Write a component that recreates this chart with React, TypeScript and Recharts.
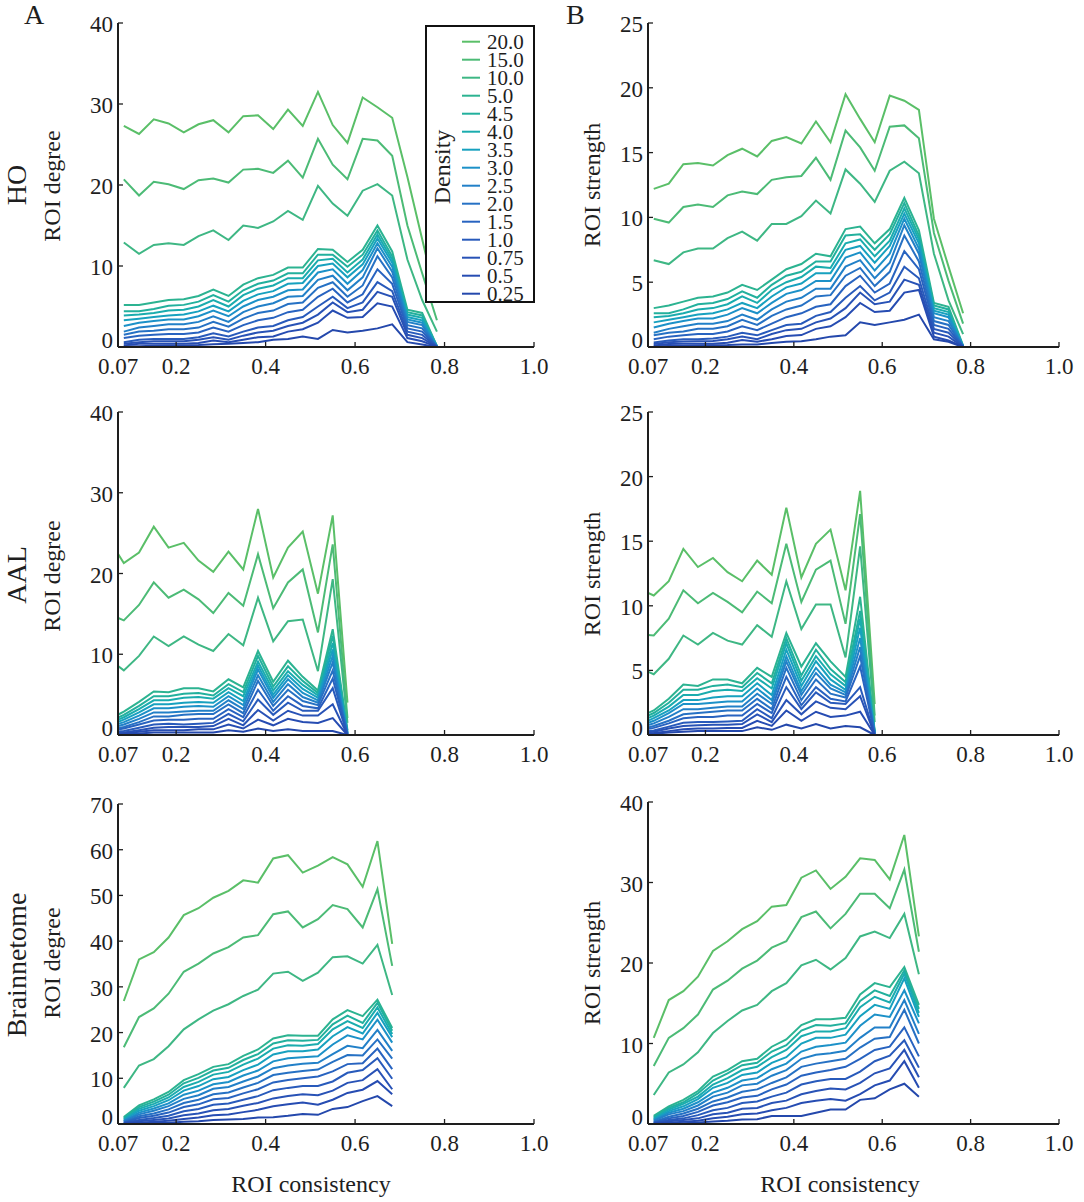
import React from "react";
import { Legend, Line, LineChart, XAxis, YAxis } from "recharts";

const SERIF = "'Liberation Serif', 'Times New Roman', serif";
const INK = "#1e1e1e";

// network density (%) of each curve, highest first
const DENSITIES = ["20.0", "15.0", "10.0", "5.0", "4.5", "4.0", "3.5", "3.0", "2.5", "2.0", "1.5", "1.0", "0.75", "0.5", "0.25"];
const COLORS = ["#5abf68", "#4cbb76", "#3eb784", "#2cb391", "#22b09d", "#1aacae", "#17a1bf", "#1c91c8", "#2280c8", "#2671c4", "#2863c0", "#285abb", "#2852b6", "#264cb2", "#2448ac"];

// ROI consistency bin centres per atlas
const X_HO = [0.083, 0.117, 0.15, 0.183, 0.217, 0.25, 0.283, 0.317, 0.35, 0.383, 0.417, 0.45, 0.483, 0.517, 0.55, 0.583, 0.617, 0.65, 0.683, 0.717, 0.75, 0.783];
const X_AAL = [0.05, 0.083, 0.117, 0.15, 0.183, 0.217, 0.25, 0.283, 0.317, 0.35, 0.383, 0.417, 0.45, 0.483, 0.517, 0.55, 0.583];
const X_BN = [0.083, 0.117, 0.15, 0.183, 0.217, 0.25, 0.283, 0.317, 0.35, 0.383, 0.417, 0.45, 0.483, 0.517, 0.55, 0.583, 0.617, 0.65, 0.683];

const X_TICKS = [0.07, 0.2, 0.4, 0.6, 0.8, 1.0];
const DEGREE_TICKS = [0, 10, 20, 30, 40];
const STRENGTH_TICKS = [0, 5, 10, 15, 20, 25];
const BN_DEGREE_TICKS = [0, 10, 20, 30, 40, 50, 60, 70];
const BN_STRENGTH_TICKS = [0, 10, 20, 30, 40];

// one row per density, same order as DENSITIES
const HO_DEGREE = [
  [27.3, 26.3, 28.1, 27.6, 26.5, 27.5, 28.0, 26.5, 28.5, 28.6, 26.9, 29.3, 27.3, 31.5, 27.4, 25.2, 30.8, 29.6, 28.3, 21.0, 13.3, 5.6],
  [20.7, 18.7, 20.4, 20.1, 19.5, 20.6, 20.8, 20.3, 21.9, 22.0, 21.5, 23.0, 20.9, 25.7, 22.5, 20.7, 25.7, 25.5, 23.6, 15.0, 9.1, 3.3],
  [12.9, 11.5, 12.6, 12.8, 12.6, 13.7, 14.4, 13.2, 15.0, 14.7, 15.5, 16.8, 15.7, 19.9, 17.7, 16.2, 19.3, 20.1, 18.7, 10.8, 5.8, 1.9],
  [5.2, 5.2, 5.5, 5.8, 5.9, 6.3, 7.1, 6.3, 7.7, 8.5, 8.9, 9.8, 9.8, 12.1, 12.0, 10.5, 12.0, 15.0, 11.8, 4.6, 4.2, 0.1],
  [4.4, 4.4, 4.7, 5.1, 5.2, 5.6, 6.4, 5.6, 7.0, 7.8, 8.2, 9.1, 9.1, 11.4, 11.4, 9.9, 11.4, 14.4, 11.2, 4.3, 3.9, 0.1],
  [3.9, 4.0, 4.2, 4.5, 4.6, 5.0, 5.8, 5.0, 6.4, 7.2, 7.6, 8.5, 8.5, 10.7, 10.9, 9.2, 10.8, 13.9, 10.8, 4.0, 3.6, 0.1],
  [3.3, 3.5, 3.7, 3.9, 4.0, 4.4, 5.1, 4.4, 5.7, 6.5, 6.9, 7.8, 7.9, 10.0, 10.3, 8.6, 10.2, 13.4, 10.4, 3.7, 3.3, 0.1],
  [2.6, 3.0, 3.2, 3.4, 3.4, 3.8, 4.5, 3.8, 5.0, 5.8, 6.2, 7.0, 7.1, 9.2, 9.6, 7.8, 9.5, 12.8, 9.9, 3.4, 3.0, 0.05],
  [1.9, 2.4, 2.6, 2.8, 2.8, 3.1, 3.8, 3.1, 4.3, 5.0, 5.4, 6.2, 6.3, 8.3, 8.8, 7.0, 8.6, 12.2, 9.3, 3.1, 2.7, 0.05],
  [1.5, 1.9, 2.0, 2.2, 2.2, 2.4, 3.1, 2.5, 3.5, 4.2, 4.5, 5.3, 5.5, 7.3, 8.0, 6.2, 7.6, 11.2, 8.6, 2.7, 2.3, 0.05],
  [1.1, 1.4, 1.5, 1.6, 1.6, 1.8, 2.4, 1.9, 2.7, 3.3, 3.6, 4.3, 4.6, 6.2, 7.2, 5.5, 6.5, 9.6, 7.8, 2.3, 1.9, 0.03],
  [0.6, 0.9, 1.0, 1.0, 1.0, 1.2, 1.7, 1.3, 1.9, 2.4, 2.6, 3.3, 3.7, 5.0, 6.2, 4.8, 5.5, 8.0, 6.9, 1.9, 1.5, 0.02],
  [0.4, 0.6, 0.7, 0.7, 0.7, 0.9, 1.2, 0.9, 1.4, 1.8, 2.0, 2.6, 3.0, 4.0, 5.5, 4.3, 4.6, 6.8, 6.2, 1.5, 1.1, 0.01],
  [0.2, 0.4, 0.4, 0.4, 0.4, 0.5, 0.8, 0.6, 0.9, 1.2, 1.3, 1.9, 2.2, 3.0, 4.5, 3.6, 3.7, 5.4, 5.0, 1.1, 0.7, 0.01],
  [0.1, 0.1, 0.15, 0.2, 0.2, 0.25, 0.35, 0.4, 0.5, 0.6, 0.9, 1.0, 1.3, 1.0, 2.1, 1.8, 2.0, 2.3, 2.8, 0.6, 0.3, 0],
];

const HO_STRENGTH = [
  [12.2, 12.6, 14.1, 14.2, 14.0, 14.8, 15.3, 14.7, 15.9, 16.2, 15.7, 17.4, 15.8, 19.5, 17.6, 15.8, 19.4, 19.0, 18.3, 9.9, 6.2, 2.6],
  [9.9, 9.6, 10.8, 11.0, 10.8, 11.7, 12.0, 11.8, 12.9, 13.1, 13.2, 14.6, 12.9, 16.7, 15.4, 13.6, 17.0, 17.1, 16.1, 8.8, 5.1, 1.8],
  [6.7, 6.4, 7.3, 7.6, 7.6, 8.4, 8.9, 8.2, 9.5, 9.5, 10.1, 11.3, 10.3, 13.7, 12.6, 11.2, 13.6, 14.3, 13.4, 7.2, 3.6, 1.0],
  [3.0, 3.2, 3.5, 3.8, 3.9, 4.2, 4.8, 4.4, 5.2, 6.0, 6.4, 7.2, 7.0, 9.1, 9.3, 8.0, 9.1, 11.5, 9.0, 3.4, 3.1, 0.1],
  [2.6, 2.6, 2.9, 3.3, 3.4, 3.7, 4.3, 3.8, 4.8, 5.5, 5.8, 6.6, 6.6, 8.6, 8.7, 7.5, 8.7, 11.1, 8.6, 3.2, 2.9, 0.05],
  [2.3, 2.4, 2.6, 2.9, 3.0, 3.3, 3.9, 3.4, 4.4, 5.0, 5.4, 6.2, 6.1, 8.0, 8.3, 7.0, 8.2, 10.7, 8.3, 3.0, 2.7, 0.05],
  [1.9, 2.1, 2.3, 2.5, 2.6, 2.9, 3.4, 3.0, 3.9, 4.6, 4.9, 5.7, 5.7, 7.5, 7.8, 6.5, 7.8, 10.3, 8.0, 2.8, 2.5, 0.05],
  [1.5, 1.8, 2.0, 2.2, 2.2, 2.5, 3.0, 2.6, 3.4, 4.1, 4.4, 5.1, 5.1, 6.9, 7.3, 5.9, 7.2, 9.9, 7.6, 2.6, 2.3, 0.05],
  [1.1, 1.4, 1.6, 1.8, 1.8, 2.0, 2.5, 2.1, 2.9, 3.5, 3.8, 4.5, 4.5, 6.2, 6.7, 5.3, 6.5, 9.4, 7.2, 2.3, 2.0, 0.05],
  [0.9, 1.1, 1.2, 1.4, 1.4, 1.6, 2.1, 1.7, 2.4, 2.9, 3.2, 3.9, 4.0, 5.5, 6.1, 4.7, 5.8, 8.6, 6.6, 2.0, 1.7, 0.05],
  [0.6, 0.8, 0.9, 1.0, 1.0, 1.2, 1.6, 1.3, 1.8, 2.3, 2.6, 3.1, 3.3, 4.7, 5.5, 4.2, 4.9, 7.4, 6.0, 1.7, 1.4, 0.03],
  [0.35, 0.5, 0.6, 0.6, 0.65, 0.8, 1.1, 0.9, 1.3, 1.7, 1.8, 2.4, 2.7, 3.8, 4.7, 3.6, 4.2, 6.2, 5.3, 1.4, 1.1, 0.02],
  [0.23, 0.36, 0.43, 0.45, 0.46, 0.6, 0.8, 0.6, 1.0, 1.3, 1.4, 1.9, 2.2, 3.0, 4.2, 3.3, 3.5, 5.2, 4.8, 1.1, 0.8, 0.01],
  [0.12, 0.24, 0.25, 0.26, 0.26, 0.33, 0.54, 0.41, 0.6, 0.84, 0.92, 1.4, 1.6, 2.3, 3.4, 2.7, 2.8, 4.2, 4.4, 0.8, 0.5, 0.01],
  [0.05, 0.08, 0.1, 0.12, 0.13, 0.15, 0.2, 0.2, 0.3, 0.4, 0.45, 0.6, 0.8, 0.9, 1.9, 1.7, 1.9, 2.1, 2.5, 0.6, 0.4, 0],
];

const AAL_DEGREE = [
  [24.2, 21.3, 22.6, 25.8, 23.2, 23.8, 21.6, 20.2, 22.7, 20.5, 28.0, 19.5, 23.2, 25.2, 17.5, 27.2, 4.0],
  [15.0, 14.2, 16.1, 18.9, 17.0, 18.0, 16.8, 15.1, 17.6, 16.0, 22.4, 15.7, 18.9, 20.5, 12.7, 23.6, 2.1],
  [9.4, 8.0, 9.8, 12.2, 11.0, 12.2, 11.2, 10.4, 12.5, 11.1, 17.0, 11.6, 14.1, 14.3, 7.9, 19.3, 1.5],
  [1.9, 2.9, 4.1, 5.4, 5.3, 5.8, 5.8, 5.4, 6.9, 5.9, 10.4, 6.6, 9.2, 7.2, 5.5, 13.1, 0.6],
  [1.6, 2.5, 3.6, 4.8, 4.8, 5.1, 5.2, 4.9, 6.3, 5.3, 9.8, 6.0, 8.5, 6.7, 5.2, 12.3, 0.4],
  [1.4, 2.2, 3.2, 4.3, 4.3, 4.6, 4.7, 4.5, 5.8, 4.8, 9.1, 5.5, 7.9, 6.2, 4.9, 11.4, 0.3],
  [1.2, 1.9, 2.8, 3.8, 3.8, 4.0, 4.1, 4.0, 5.3, 4.2, 8.6, 5.0, 7.4, 5.7, 4.6, 10.6, 0.2],
  [1.0, 1.6, 2.4, 3.3, 3.3, 3.5, 3.6, 3.5, 4.8, 3.7, 8.1, 4.6, 6.9, 5.2, 4.3, 9.8, 0.2],
  [0.8, 1.3, 2.0, 2.8, 2.8, 2.9, 3.0, 3.0, 4.3, 3.2, 7.4, 4.1, 6.3, 4.7, 4.0, 9.0, 0.1],
  [0.6, 1.0, 1.6, 2.3, 2.3, 2.5, 2.6, 2.6, 3.8, 2.7, 6.7, 3.6, 5.6, 4.2, 3.7, 8.0, 0.1],
  [0.5, 0.8, 1.3, 1.8, 1.9, 1.9, 2.0, 2.0, 3.2, 2.2, 5.6, 3.0, 4.8, 3.6, 3.3, 7.0, 0.1],
  [0.3, 0.5, 0.9, 1.3, 1.4, 1.3, 1.4, 1.5, 2.6, 1.7, 4.4, 2.5, 4.0, 3.0, 3.0, 5.8, 0],
  [0.2, 0.3, 0.6, 0.9, 1.0, 1.0, 1.0, 1.1, 2.0, 1.2, 3.1, 1.8, 3.0, 2.4, 2.4, 3.8, 0],
  [0.1, 0.2, 0.4, 0.6, 0.6, 0.6, 0.7, 0.7, 1.3, 0.8, 1.9, 1.2, 2.0, 1.6, 1.5, 2.1, 0],
  [0.05, 0.1, 0.2, 0.3, 0.3, 0.3, 0.3, 0.3, 0.6, 0.4, 0.8, 0.5, 0.7, 0.5, 0.5, 0.5, 0],
];

const AAL_STRENGTH = [
  [11.3, 10.8, 11.9, 14.4, 13.0, 13.7, 12.6, 11.9, 13.5, 12.4, 17.6, 12.2, 14.8, 15.9, 11.2, 18.9, 2.4],
  [7.8, 7.7, 9.0, 11.2, 10.2, 11.0, 10.3, 9.5, 11.1, 10.2, 14.8, 10.3, 12.8, 13.5, 8.6, 17.1, 1.5],
  [5.2, 4.7, 5.9, 7.7, 7.0, 7.9, 7.3, 7.0, 8.5, 7.6, 11.9, 8.2, 10.1, 10.1, 6.0, 14.6, 1.0],
  [1.4, 1.9, 2.8, 3.9, 3.8, 4.3, 4.3, 4.0, 5.2, 4.5, 7.9, 5.3, 7.1, 5.7, 4.5, 10.7, 0.3],
  [1.2, 1.7, 2.5, 3.5, 3.5, 3.8, 3.9, 3.7, 4.8, 4.0, 7.5, 4.6, 6.6, 5.1, 4.1, 9.6, 0.2],
  [1.0, 1.5, 2.2, 3.1, 3.1, 3.4, 3.5, 3.4, 4.4, 3.6, 7.1, 4.2, 6.1, 4.7, 3.8, 9.0, 0.2],
  [0.8, 1.3, 1.9, 2.7, 2.7, 2.9, 3.0, 3.0, 4.0, 3.1, 6.6, 3.8, 5.7, 4.3, 3.5, 8.3, 0.15],
  [0.7, 1.1, 1.7, 2.4, 2.4, 2.5, 2.6, 2.6, 3.6, 2.7, 6.1, 3.4, 5.2, 3.9, 3.3, 7.5, 0.1],
  [0.55, 0.9, 1.4, 2.0, 2.0, 2.1, 2.2, 2.2, 3.2, 2.4, 5.7, 3.1, 4.8, 3.6, 3.1, 6.8, 0.1],
  [0.4, 0.7, 1.1, 1.6, 1.7, 1.8, 1.9, 1.9, 2.8, 2.0, 5.2, 2.7, 4.3, 3.2, 2.9, 6.1, 0.1],
  [0.35, 0.55, 0.9, 1.3, 1.4, 1.4, 1.5, 1.5, 2.4, 1.7, 4.5, 2.3, 3.7, 2.8, 2.6, 5.3, 0.05],
  [0.2, 0.35, 0.65, 0.95, 1.0, 1.0, 1.05, 1.1, 2.0, 1.3, 3.7, 2.0, 3.3, 2.5, 2.4, 3.7, 0],
  [0.15, 0.25, 0.5, 0.7, 0.75, 0.8, 0.8, 0.85, 1.6, 1.0, 2.7, 1.6, 2.6, 2.1, 2.0, 3.0, 0],
  [0.1, 0.15, 0.3, 0.45, 0.5, 0.5, 0.55, 0.55, 1.1, 0.7, 1.9, 1.1, 1.8, 1.4, 1.5, 1.8, 0],
  [0.05, 0.1, 0.2, 0.25, 0.3, 0.3, 0.3, 0.3, 0.6, 0.4, 0.8, 0.5, 0.85, 0.5, 0.7, 0.6, 0],
];

const BN_DEGREE = [
  [26.9, 36.0, 37.6, 40.8, 45.7, 47.2, 49.5, 51.0, 53.3, 52.8, 58.1, 58.8, 55.0, 56.5, 58.4, 56.8, 51.9, 61.9, 39.4],
  [16.8, 23.4, 25.3, 28.5, 33.3, 35.1, 37.3, 38.7, 40.8, 41.3, 45.9, 46.5, 43.0, 44.8, 47.9, 47.0, 43.0, 51.4, 34.6],
  [7.9, 12.8, 14.2, 17.0, 20.7, 22.9, 24.8, 26.2, 28.0, 29.4, 32.9, 33.3, 31.3, 33.1, 36.5, 36.7, 35.1, 39.2, 28.2],
  [1.5, 4.1, 5.4, 7.0, 9.6, 10.9, 12.5, 13.1, 14.9, 16.3, 18.7, 19.4, 19.3, 19.3, 22.9, 24.9, 23.6, 27.2, 21.0],
  [1.3, 3.7, 4.9, 6.4, 8.9, 10.1, 11.7, 12.3, 14.0, 15.3, 17.6, 18.3, 18.2, 18.4, 21.8, 23.7, 22.1, 26.5, 20.4],
  [1.1, 3.3, 4.4, 5.8, 8.1, 9.2, 10.8, 11.4, 13.0, 14.3, 16.5, 17.2, 17.1, 17.5, 20.7, 22.5, 21.0, 25.5, 19.7],
  [0.9, 2.9, 3.9, 5.2, 7.3, 8.3, 9.8, 10.3, 11.8, 13.0, 15.2, 15.9, 15.9, 16.3, 19.2, 21.2, 19.8, 24.3, 19.0],
  [0.7, 2.5, 3.4, 4.5, 6.4, 7.3, 8.7, 9.2, 10.6, 11.7, 13.7, 14.4, 14.6, 14.8, 17.4, 19.4, 18.5, 22.8, 17.8],
  [0.6, 2.1, 2.9, 3.9, 5.5, 6.3, 7.7, 8.1, 9.3, 10.4, 12.2, 12.8, 13.2, 13.4, 15.3, 17.1, 16.6, 20.6, 16.0],
  [0.4, 1.7, 2.3, 3.2, 4.6, 5.3, 6.5, 6.9, 8.0, 9.0, 10.7, 11.2, 11.6, 11.9, 13.6, 15.1, 15.0, 18.5, 14.3],
  [0.3, 1.3, 1.8, 2.5, 3.7, 4.3, 5.4, 5.7, 6.7, 7.6, 9.1, 9.6, 10.0, 10.4, 11.5, 13.1, 13.3, 16.5, 12.0],
  [0.2, 0.9, 1.3, 1.8, 2.8, 3.3, 4.2, 4.5, 5.3, 6.1, 7.4, 7.9, 8.3, 8.3, 9.3, 11.2, 11.8, 14.4, 9.9],
  [0.1, 0.6, 0.9, 1.2, 1.9, 2.3, 3.0, 3.3, 4.0, 4.6, 5.6, 6.1, 6.5, 6.3, 7.3, 9.0, 9.6, 12.0, 7.6],
  [0.05, 0.3, 0.5, 0.7, 1.1, 1.4, 1.9, 2.1, 2.6, 3.1, 3.9, 4.3, 4.7, 4.2, 5.3, 6.8, 7.5, 9.4, 6.5],
  [0.02, 0.1, 0.2, 0.3, 0.5, 0.6, 0.9, 1.0, 1.1, 1.4, 1.5, 1.8, 2.2, 2.0, 3.3, 3.7, 5.0, 6.1, 3.9],
];

const BN_STRENGTH = [
  [10.7, 15.4, 16.5, 18.3, 21.5, 22.7, 24.2, 25.2, 27.0, 27.2, 30.6, 31.5, 29.2, 30.7, 33.0, 32.8, 30.4, 35.9, 23.3],
  [7.2, 10.7, 11.9, 13.6, 16.7, 17.8, 19.3, 20.3, 21.9, 22.7, 25.7, 26.4, 24.3, 26.1, 28.6, 28.6, 26.8, 31.6, 21.4],
  [3.6, 6.4, 7.4, 8.9, 11.3, 12.8, 14.1, 14.8, 16.5, 17.5, 19.7, 20.4, 19.2, 20.6, 23.3, 23.9, 23.1, 26.1, 18.6],
  [1.0, 2.2, 3.0, 4.1, 5.9, 6.7, 7.8, 8.1, 9.6, 10.5, 12.3, 13.0, 13.0, 13.2, 16.1, 17.5, 17.0, 19.5, 14.8],
  [0.85, 2.0, 2.7, 3.8, 5.4, 6.3, 7.3, 7.6, 9.0, 9.8, 11.6, 12.3, 12.2, 12.5, 15.3, 16.6, 15.9, 19.1, 14.3],
  [0.7, 1.8, 2.5, 3.4, 4.9, 5.7, 6.7, 7.1, 8.3, 9.2, 10.9, 11.5, 11.5, 11.9, 14.5, 15.8, 15.1, 18.7, 13.8],
  [0.6, 1.6, 2.2, 3.1, 4.5, 5.1, 6.1, 6.4, 7.6, 8.3, 10.0, 10.7, 10.7, 11.1, 13.4, 14.8, 14.3, 18.1, 13.3],
  [0.45, 1.4, 1.9, 2.7, 3.9, 4.5, 5.4, 5.7, 6.8, 7.5, 9.0, 9.6, 9.8, 10.1, 12.2, 13.6, 13.3, 16.6, 12.5],
  [0.4, 1.2, 1.6, 2.3, 3.4, 3.9, 4.8, 5.0, 6.0, 6.7, 8.1, 8.6, 8.8, 9.1, 10.7, 12.0, 12.0, 15.4, 11.2],
  [0.26, 0.9, 1.3, 1.9, 2.8, 3.3, 4.0, 4.3, 5.1, 5.8, 7.1, 7.5, 7.8, 8.1, 9.5, 10.6, 10.8, 14.2, 10.0],
  [0.2, 0.7, 1.0, 1.5, 2.3, 2.7, 3.3, 3.5, 4.3, 4.9, 6.0, 6.4, 6.7, 7.1, 8.1, 9.2, 9.6, 12.0, 8.4],
  [0.13, 0.5, 0.7, 1.1, 1.7, 2.0, 2.6, 2.8, 3.4, 3.9, 4.9, 5.3, 5.6, 5.6, 6.5, 7.8, 8.5, 10.4, 7.0],
  [0.07, 0.33, 0.5, 0.7, 1.2, 1.4, 1.9, 2.0, 2.6, 2.9, 3.7, 4.1, 4.4, 4.3, 5.1, 6.3, 6.9, 9.2, 5.8],
  [0.03, 0.17, 0.28, 0.4, 0.7, 0.9, 1.2, 1.3, 1.7, 2.0, 2.6, 2.9, 3.1, 2.9, 3.7, 4.8, 5.4, 7.8, 4.5],
  [0.01, 0.06, 0.1, 0.18, 0.3, 0.4, 0.55, 0.6, 1.0, 1.0, 1.0, 1.4, 1.8, 1.8, 3.0, 3.2, 4.3, 5.0, 3.4],
];

function buildRows(xs: number[], series: number[][]) {
  return xs.map((x, i) => {
    const row: Record<string, number> = { x };
    series.forEach((s, k) => {
      row[`d${k}`] = s[i];
    });
    return row;
  });
}

// MATLAB-style ticks: short marks pointing into the plot
function XTick({ x, y, payload }: { x?: number; y?: number; payload?: { value: number } }) {
  const v = payload?.value ?? 0;
  const label = v === 0.07 ? "0.07" : v.toFixed(1);
  return (
    <g>
      <line x1={x} x2={x} y1={y} y2={(y ?? 0) - 5} stroke={INK} strokeWidth={1.3} />
      <text x={x} y={(y ?? 0) + 27} textAnchor="middle" fontSize={23} fontFamily={SERIF} fill={INK}>
        {label}
      </text>
    </g>
  );
}

function YTick({ x, y, payload }: { x?: number; y?: number; payload?: { value: number } }) {
  const v = payload?.value ?? 0;
  return (
    <g>
      <line x1={x} x2={(x ?? 0) + 5} y1={y} y2={y} stroke={INK} strokeWidth={1.3} />
      <text x={(x ?? 0) - 5} y={(y ?? 0) + (v === 0 ? 1 : 9)} textAnchor="end" fontSize={23} fontFamily={SERIF} fill={INK}>
        {v}
      </text>
    </g>
  );
}

function DensityLegend() {
  return (
    <svg width={110} height={284} style={{ display: "block", overflow: "visible" }}>
      <rect x={1} y={1} width={108} height={276} fill="#fff" stroke="#111" strokeWidth={2} />
      <text transform="translate(25,142) rotate(-90)" textAnchor="middle" fontSize={24} fontFamily={SERIF} fill={INK}>
        Density
      </text>
      {DENSITIES.map((d, k) => {
        const cy = 16.7 + 18 * k;
        return (
          <g key={d}>
            <line x1={37} x2={55} y1={cy} y2={cy} stroke={COLORS[k]} strokeWidth={2} />
            <text x={62} y={cy + 7} fontSize={21} fontFamily={SERIF} fill={INK}>
              {d}
            </text>
          </g>
        );
      })}
    </svg>
  );
}

interface PanelProps {
  left: number;
  top: number;
  width: number;
  height: number;
  xs: number[];
  series: number[][];
  yTicks: number[];
  legend?: boolean;
}

function Panel({ left, top, width, height, xs, series, yTicks, legend }: PanelProps) {
  const data = buildRows(xs, series);
  const yMax = yTicks[yTicks.length - 1];
  return (
    <div style={{ position: "absolute", left: left - 100, top: top - 20 }}>
      <LineChart
        width={width + 120}
        height={height + 70}
        data={data}
        margin={{ top: 20, right: 20, bottom: 0, left: 0 }}
      >
        <XAxis
          type="number"
          dataKey="x"
          domain={[0.07, 1]}
          ticks={X_TICKS}
          interval={0}
          allowDataOverflow
          height={50}
          axisLine={{ stroke: INK, strokeWidth: 2 }}
          tickLine={false}
          tickSize={0}
          tickMargin={0}
          tick={(p: any) => <XTick {...p} />}
        />
        <YAxis
          type="number"
          domain={[0, yMax]}
          ticks={yTicks}
          interval={0}
          width={100}
          axisLine={{ stroke: INK, strokeWidth: 2 }}
          tickLine={false}
          tickSize={0}
          tickMargin={0}
          tick={(p: any) => <YTick {...p} />}
        />
        {DENSITIES.map((d, k) => (
          <Line
            key={d}
            type="linear"
            dataKey={`d${k}`}
            name={d}
            stroke={COLORS[k]}
            strokeWidth={2}
            dot={false}
            activeDot={false}
            isAnimationActive={false}
          />
        ))}
        {legend && (
          <Legend
            layout="vertical"
            align="center"
            verticalAlign="middle"
            wrapperStyle={{ left: 407, top: 22, width: 110, height: 284 }}
            content={() => <DensityLegend />}
          />
        )}
      </LineChart>
    </div>
  );
}

const ROW_LABELS = [
  { text: "HO", cy: 185, yLabel: 186, yLabelRight: 185 },
  { text: "AAL", cy: 575, yLabel: 576, yLabelRight: 574 },
  { text: "Brainnetome", cy: 965, yLabel: 963, yLabelRight: 963 },
];

export default function App() {
  return (
    <div style={{ position: "absolute", left: 0, top: 0, width: 1084, height: 1202, background: "#fff" }}>
      <svg width={1084} height={1202} style={{ position: "absolute", left: 0, top: 0 }} fontFamily={SERIF} fill={INK}>
        <text x={24} y={24} fontSize={28}>A</text>
        <text x={566} y={24} fontSize={28}>B</text>
        {ROW_LABELS.map((r) => (
          <g key={r.text}>
            <text transform={`translate(26,${r.cy}) rotate(-90)`} textAnchor="middle" fontSize={28}>
              {r.text}
            </text>
            <text transform={`translate(60,${r.yLabel}) rotate(-90)`} textAnchor="middle" fontSize={24}>
              ROI degree
            </text>
            <text transform={`translate(600,${r.yLabelRight}) rotate(-90)`} textAnchor="middle" fontSize={24}>
              ROI strength
            </text>
          </g>
        ))}
        <text x={311} y={1192} textAnchor="middle" fontSize={24}>ROI consistency</text>
        <text x={840} y={1192} textAnchor="middle" fontSize={24}>ROI consistency</text>
      </svg>

      <Panel left={118} top={23} width={416} height={324} xs={X_HO} series={HO_DEGREE} yTicks={DEGREE_TICKS} legend />
      <Panel left={648} top={23} width={411} height={324} xs={X_HO} series={HO_STRENGTH} yTicks={STRENGTH_TICKS} />
      <Panel left={118} top={412} width={416} height={323} xs={X_AAL} series={AAL_DEGREE} yTicks={DEGREE_TICKS} />
      <Panel left={648} top={412} width={411} height={323} xs={X_AAL} series={AAL_STRENGTH} yTicks={STRENGTH_TICKS} />
      <Panel left={118} top={804} width={416} height={320} xs={X_BN} series={BN_DEGREE} yTicks={BN_DEGREE_TICKS} />
      <Panel left={648} top={802} width={411} height={322} xs={X_BN} series={BN_STRENGTH} yTicks={BN_STRENGTH_TICKS} />
    </div>
  );
}
